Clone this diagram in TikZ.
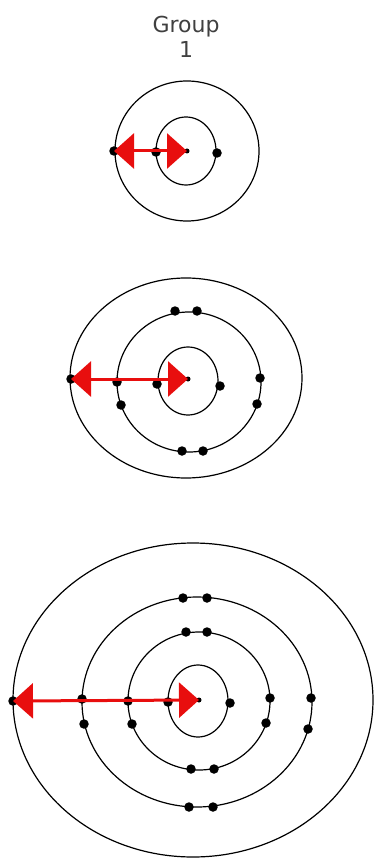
\documentclass[tikz,border=0pt]{standalone}
\usepackage{fontspec}
\setmainfont{DejaVu Sans}
\usetikzlibrary{arrows.meta}
\definecolor{arrowred}{RGB}{232,14,14}
\definecolor{textgray}{RGB}{64,64,64}

\begin{document}
\begin{tikzpicture}[
    x=1pt, y=-1pt,
    orbit/.style={draw=black, line width=1.2pt},
    electron/.style={circle, fill=black, inner sep=0pt, minimum size=9.5pt},
    nucleus/.style={circle, fill=black, inner sep=0pt, minimum size=5pt},
    radius arrow/.style={arrowred, line width=3pt,
                arrows={Triangle[width=35pt, length=20pt]-Triangle[width=35pt, length=20pt]}},
    grouplabel/.style={text=textgray, align=center, font=\fontsize{22}{25}\selectfont}
]
    \useasboundingbox (0,0) rectangle (376,858);

    \node[grouplabel] (title) at (186,37) {Group\\1};

    % first atom
    \draw[orbit] (186,151) ellipse [x radius=30pt, y radius=34pt];
    \draw[orbit] (187,151) ellipse [x radius=72pt, y radius=70pt];
    \node[nucleus]  (nucA)  at (187,151) {};
    \node[electron] (outA)  at (114,151) {};
    \node[electron] (a1)    at (156,152) {};
    \node[electron] (a2)    at (217,153) {};
    \draw[radius arrow] (outA.center) -- (nucA.center);

    % second atom
    \draw[orbit] (188,381) ellipse [x radius=30pt, y radius=34pt];
    \draw[orbit] (189,382) ellipse [x radius=72pt, y radius=70pt];
    \draw[orbit] (186,378) ellipse [x radius=116pt, y radius=100pt];
    \node[nucleus]  (nucB)  at (188,379) {};
    \node[electron] (outB)  at (71,379)  {};
    \node[electron] (b1)    at (157,384) {};
    \node[electron] (b2)    at (220,386) {};
    \node[electron] (b3)    at (117,382) {};
    \node[electron] (b4)    at (121,405) {};
    \node[electron] (b5)    at (175,311) {};
    \node[electron] (b6)    at (197,311) {};
    \node[electron] (b7)    at (182,451) {};
    \node[electron] (b8)    at (203,451) {};
    \node[electron] (b9)    at (260,378) {};
    \node[electron] (b10)   at (257,404) {};
    \draw[radius arrow] (outB.center) -- (nucB.center);

    % third atom
    \draw[orbit] (198,701) ellipse [x radius=30pt, y radius=36pt];
    \draw[orbit] (199,701) ellipse [x radius=71pt, y radius=69pt];
    \draw[orbit] (197,702) ellipse [x radius=115pt, y radius=105pt];
    \draw[orbit] (193,700) ellipse [x radius=180pt, y radius=157pt];
    \node[nucleus]  (nucC)  at (199,700) {};
    \node[electron] (outC)  at (13,701)  {};
    \node[electron] (c1)    at (168,702) {};
    \node[electron] (c2)    at (230,703) {};
    \node[electron] (c3)    at (128,701) {};
    \node[electron] (c4)    at (132,724) {};
    \node[electron] (c5)    at (186,632) {};
    \node[electron] (c6)    at (207,632) {};
    \node[electron] (c7)    at (191,769) {};
    \node[electron] (c8)    at (214,769) {};
    \node[electron] (c9)    at (270,698) {};
    \node[electron] (c10)   at (266,723) {};
    \node[electron] (c11)   at (82,699)  {};
    \node[electron] (c12)   at (84,724)  {};
    \node[electron] (c13)   at (183,598) {};
    \node[electron] (c14)   at (207,598) {};
    \node[electron] (c15)   at (189,807) {};
    \node[electron] (c16)   at (213,807) {};
    \node[electron] (c17)   at (311,698) {};
    \node[electron] (c18)   at (308,729) {};
    \draw[radius arrow] (outC.center) -- (nucC.center);
\end{tikzpicture}
\end{document}
